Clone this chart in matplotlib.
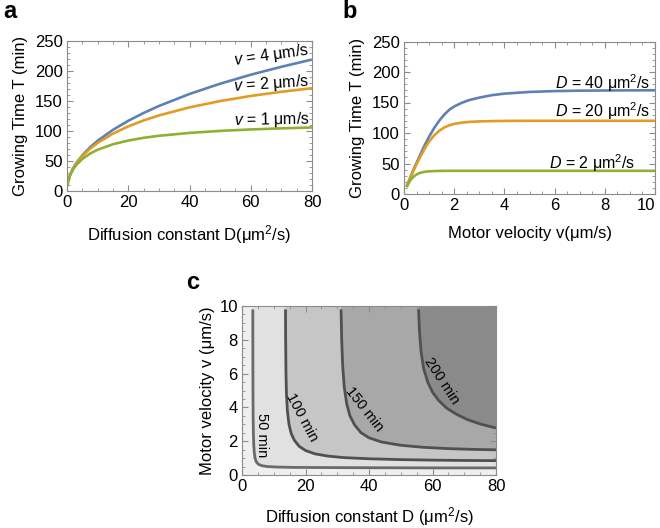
import matplotlib
matplotlib.use('Agg')
import matplotlib.pyplot as plt
from matplotlib.ticker import MultipleLocator

plt.rcParams['font.family'] = ['Liberation Sans', 'DejaVu Sans']
plt.rcParams['mathtext.fontset'] = 'custom'
plt.rcParams['mathtext.rm'] = 'Liberation Sans'
plt.rcParams['mathtext.it'] = 'Liberation Sans:italic'

# ---------------- Panel a data: T vs D ----------------
D_a = [0.1, 0.25, 0.5, 1, 2, 3, 5, 7.5, 10, 15, 20, 25, 30, 40, 50, 60, 70, 80]
T_v4 = [8.5, 13.4, 18.9, 26.8, 37.9, 46.3, 59.5, 72.7, 83.7, 101.9, 117.0, 130.0,
        141.7, 161.7, 178.8, 193.8, 207.0, 219.1]
T_v2 = [8.5, 13.4, 18.9, 26.6, 37.5, 45.6, 58.2, 70.3, 80.1, 95.6, 107.7, 117.6,
        125.9, 139.4, 149.9, 158.4, 165.4, 171.3]
T_v1 = [8.45, 13.3, 18.7, 26.1, 36.1, 43.2, 53.4, 62.3, 68.8, 77.9, 84.1, 88.6,
        92.0, 96.8, 100.2, 102.6, 104.4, 105.9]

# ---------------- Panel b data: T vs v ----------------
v_b = [0.1, 0.2, 0.3, 0.4, 0.5, 0.6, 0.7, 0.8, 0.9, 1.0, 1.2, 1.4, 1.6, 1.8, 2.0,
       2.3, 2.6, 3.0, 3.5, 4, 5, 6, 7, 8, 9, 10]
T_D40 = [12, 22, 32, 42, 51, 60, 69, 78, 86, 94, 108, 120, 130, 138, 143.5,
         149.5, 154, 158, 162, 164.5, 167.3, 168.7, 169.4, 169.7, 169.9, 170]
T_D20 = [11.5, 21.5, 31, 40, 49, 57, 65, 72.5, 79.5, 86, 96, 103.5, 109, 112.5, 115,
         117, 118.2, 119, 119.5, 119.8, 120, 120, 120, 120, 120, 120]
T_D2 = [11, 19, 25, 29, 32, 34, 35.3, 36.2, 36.8, 37.2, 37.6, 37.8, 37.9, 38, 38,
        38, 38, 38, 38, 38, 38, 38, 38, 38, 38, 38]

# ---------------- Panel c data: contour lines (D, v) ----------------
c50_D = [3.4, 3.42, 3.45, 3.5, 3.58, 3.7, 3.85, 4.1, 4.5, 5.2, 6.3, 8, 11, 16, 25, 40, 60, 80]
c50_v = [9.8, 7, 5, 3.5, 2.5, 1.8, 1.35, 1.0, 0.78, 0.63, 0.55, 0.5, 0.47, 0.45, 0.44,
         0.43, 0.42, 0.42]
c100_D = [13.7, 13.75, 13.85, 14.0, 14.3, 14.8, 15.5, 16.5, 18, 20, 23, 27, 32, 40, 50, 60, 70, 80]
c100_v = [9.8, 8, 6, 4.8, 3.8, 3.0, 2.45, 2.05, 1.7, 1.45, 1.25, 1.12, 1.03, 0.96, 0.91,
          0.88, 0.86, 0.85]
c150_D = [31.2, 31.4, 31.7, 32.2, 33, 34, 35.5, 37.5, 40, 44, 50, 57, 65, 72, 80]
c150_v = [9.8, 8, 6.5, 5.2, 4.2, 3.5, 2.95, 2.5, 2.2, 1.95, 1.76, 1.64, 1.56, 1.52, 1.49]
c200_D = [55.6, 55.9, 56.4, 57.2, 58.5, 60, 62, 64.5, 67.5, 71, 75, 80]
c200_v = [9.8, 8.5, 7.3, 6.3, 5.5, 4.9, 4.4, 3.95, 3.6, 3.28, 3.02, 2.78]
levels = [50, 100, 150, 200]
level_labels = ['50 min', '100 min', '150 min', '200 min']

xticks_b = [0, 2, 4, 6, 8, 10]

BLUE = '#5e81b5'
ORANGE = '#e19c24'
GREEN = '#8fb032'
FRAME = '#8c8c8c'
TICK_FS = 12
LABEL_FS = 12


def style(ax):
    for s in ax.spines.values():
        s.set_color(FRAME)
        s.set_linewidth(0.8)
    ax.tick_params(which='both', direction='in', top=True, right=True,
                   color=FRAME, labelsize=TICK_FS, labelcolor='black', pad=3)
    ax.tick_params(which='major', length=4, width=0.8)
    ax.tick_params(which='minor', length=2, width=0.6)


fig = plt.figure(figsize=(6.6, 5.28), dpi=100)

# ---------------- Panel a ----------------
axa = fig.add_axes([67 / 660, 1 - 191 / 528, 245 / 660, 150 / 528])
lw = 1.9
axa.plot(D_a, T_v4, color=BLUE, lw=lw, solid_capstyle='butt')
axa.plot(D_a, T_v2, color=ORANGE, lw=lw, solid_capstyle='butt')
axa.plot(D_a, T_v1, color=GREEN, lw=lw, solid_capstyle='butt')
axa.set_xlim(0, 80)
axa.set_ylim(0, 250)
axa.xaxis.set_major_locator(MultipleLocator(20))
axa.xaxis.set_minor_locator(MultipleLocator(5))
axa.yaxis.set_major_locator(MultipleLocator(50))
axa.yaxis.set_minor_locator(MultipleLocator(10))
style(axa)
axa.set_xlabel('Diffusion constant D(μm$^2$/s)', fontsize=LABEL_FS, labelpad=9)
axa.set_ylabel('Growing Time T (min)', fontsize=LABEL_FS, labelpad=5)
axa.text(79.3, 226, r'$v$ = 4 μm/s', ha='right', va='center', fontsize=11.5, rotation=8)
axa.text(79.3, 179, r'$v$ = 2 μm/s', ha='right', va='center', fontsize=11.5, rotation=4)
axa.text(79.3, 118, r'$v$ = 1 μm/s', ha='right', va='center', fontsize=11.5, rotation=1)

# ---------------- Panel b ----------------
axb = fig.add_axes([404 / 660, 1 - 194 / 528, 251 / 660, 152.5 / 528])
axb.plot(v_b, T_D40, color=BLUE, lw=lw, solid_capstyle='butt')
axb.plot(v_b, T_D20, color=ORANGE, lw=lw, solid_capstyle='butt')
axb.plot(v_b, T_D2, color=GREEN, lw=lw, solid_capstyle='butt')
axb.set_xlim(0, 10)
axb.set_ylim(0, 250)
axb.set_xticks(xticks_b)
axb.xaxis.set_minor_locator(MultipleLocator(0.5))
axb.yaxis.set_major_locator(MultipleLocator(50))
axb.yaxis.set_minor_locator(MultipleLocator(10))
style(axb)
axb.xaxis.get_major_ticks()[len(xticks_b) - 1].label1.set_horizontalalignment('right')
axb.set_xlabel('Motor velocity v(μm/s)', fontsize=LABEL_FS, labelpad=9)
axb.set_ylabel('Growing Time T (min)', fontsize=LABEL_FS, labelpad=5)
axb.text(9.8, 181, r'$D$ = 40 μm$^2$/s', ha='right', va='center', fontsize=11.5)
axb.text(9.8, 136, r'$D$ = 20 μm$^2$/s', ha='right', va='center', fontsize=11.5)
axb.text(9.2, 50, r'$D$ = 2 μm$^2$/s', ha='right', va='center', fontsize=11.5)

# ---------------- Panel c ----------------
axc = fig.add_axes([242 / 660, 1 - 475 / 528, 254 / 660, 169 / 528])
xmax, ymax = 80, 10
axc.set_xlim(0, xmax)
axc.set_ylim(0, ymax)
axc.set_facecolor('#efefef')
fills = ['#e1e1e1', '#c6c6c6', '#a8a8a8', '#8a8a8a']
curves = [(c50_D, c50_v), (c100_D, c100_v), (c150_D, c150_v), (c200_D, c200_v)]
for (Ds, vs), fc in zip(curves, fills):
    polyD = [Ds[0]] + list(Ds) + [xmax]
    polyv = [ymax] + list(vs) + [ymax]
    axc.fill(polyD, polyv, color=fc, lw=0, zorder=1)
line_cols = ['#6a6a6a', '#505050', '#505050', '#505050']
for (Ds, vs), lc in zip(curves, line_cols):
    axc.plot(Ds, vs, color=lc, lw=2.0, zorder=2, solid_capstyle='butt')

lab_pos = [(6.2, 2.35, -90), (18.9, 3.4, -62), (38.6, 3.9, -52), (63.0, 5.55, -57)]
for (x, y, r), t in zip(lab_pos, level_labels):
    axc.text(x, y, t, ha='center', va='center', rotation=r, fontsize=10.5,
             rotation_mode='anchor', zorder=3)
axc.xaxis.set_major_locator(MultipleLocator(20))
axc.xaxis.set_minor_locator(MultipleLocator(5))
axc.yaxis.set_major_locator(MultipleLocator(2))
axc.yaxis.set_minor_locator(MultipleLocator(0.5))
style(axc)
for s in axc.spines.values():
    s.set_zorder(4)
axc.set_xlabel('Diffusion constant D (μm$^2$/s)', fontsize=LABEL_FS, labelpad=8)
axc.set_ylabel('Motor velocity v (μm/s)', fontsize=LABEL_FS, labelpad=3)

# panel letters
fig.text(3 / 660, 1 - 18 / 528, 'a', fontsize=17, fontweight='bold', va='baseline')
fig.text(342 / 660, 1 - 18 / 528, 'b', fontsize=17, fontweight='bold', va='baseline')
fig.text(186 / 660, 1 - 289 / 528, 'c', fontsize=17, fontweight='bold', va='baseline')

fig.savefig('out.png', dpi=100)
